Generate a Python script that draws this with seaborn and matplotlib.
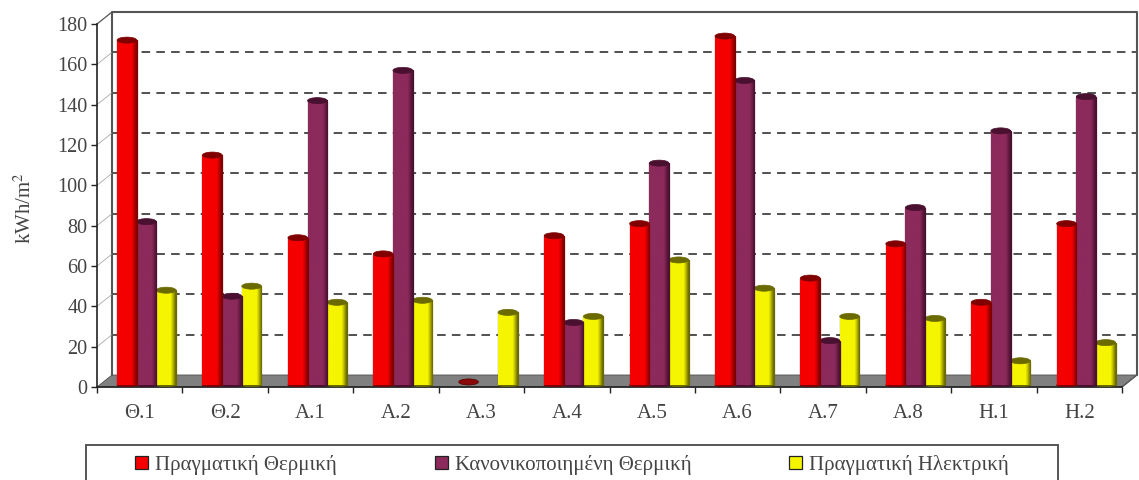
import numpy as np
import pandas as pd
import matplotlib
matplotlib.use("Agg")
import matplotlib.pyplot as plt
from matplotlib.colors import LinearSegmentedColormap
from matplotlib.patches import Ellipse, Polygon, Rectangle
import seaborn as sns

W, H = 1139, 480

sites = ["Θ.1", "Θ.2", "Α.1", "Α.2", "Α.3", "Α.4", "Α.5", "Α.6", "Α.7", "Α.8", "Η.1", "Η.2"]
actual_thermal = [171, 114, 73, 65, 0, 74, 80, 173, 53, 70, 41, 80]
normalised_thermal = [81, 44, 141, 156, 0, 31, 110, 151, 22, 88, 126, 143]
actual_electric = [47, 49, 41, 42, 36, 34, 62, 48, 34, 33, 12, 21]
series_names = ["Πραγματική Θερμική", "Κανονικοποιημένη Θερμική", "Πραγματική Ηλεκτρική"]
series_colors = ["#f50000", "#8c2a5c", "#f5f500"]
shade_colors = ["#800000", "#4a1030", "#6a6a00"]
y_ticks = list(range(0, 181, 20))

sns.set_theme(style="white")
plt.rcParams["font.family"] = ["Liberation Serif", "DejaVu Serif"]
plt.rcParams["mathtext.fontset"] = "stix"

table = pd.DataFrame({
    "site": sites * 3,
    "series": np.repeat(series_names, len(sites)),
    "value": actual_thermal + normalised_thermal + actual_electric,
})

fig = plt.figure(figsize=(W / 100, H / 100), dpi=100)
left, right, bottom, top = 97, 1122, 387, 24
ax = fig.add_axes([left / W, 1 - bottom / H, (right - left) / W, (bottom - top) / H])

sns.barplot(data=table, x="site", y="value", hue="series", hue_order=series_names,
            palette=series_colors, order=sites, width=0.69, saturation=1,
            ax=ax, legend=False, zorder=4)
ax.set_xlim(-0.5, len(sites) - 0.5)
ax.set_ylim(0, 180)

# Depth of the pseudo-3D box, expressed as an offset in axes fractions
dx = 15 / (right - left)
dy = 12 / (bottom - top)
frame = "#555555"
axt = ax.transAxes
ax.add_patch(Polygon([(0, 0), (1, 0), (1 + dx, dy), (dx, dy)], closed=True, transform=axt,
                     facecolor="#808080", edgecolor="#505050", lw=0.6, clip_on=False, zorder=1))
ax.plot([dx, dx, 1 + dx, 1 + dx], [dy, 1 + dy, 1 + dy, dy], transform=axt, color=frame, lw=1.5,
        clip_on=False, zorder=1)
ax.plot([0, dx], [1, 1 + dy], transform=axt, color=frame, lw=0.9, clip_on=False, zorder=1)
ax.plot([1, 1 + dx], [0, dy], transform=axt, color=frame, lw=0.9, clip_on=False, zorder=1)
for v in y_ticks[1:-1]:
    f = v / 180
    ax.plot([dx, 1 + dx], [f + dy, f + dy], transform=axt, color="#505050", lw=1.4,
            ls=(0, (4.4, 3.2)), clip_on=False, zorder=2)
    ax.plot([0, dx], [f, f + dy], transform=axt, color="#999999", lw=0.5, clip_on=False, zorder=2)

# Bars stand slightly behind the front edge of the floor, so they sit to the
# right of the category centre and a little above the axis line.
shift = 0.08
lift = 1.0
cap_h = 3.0
for k, (group, color, shade) in enumerate(zip(ax.containers, series_colors, shade_colors)):
    z = 6 - k
    cmap = LinearSegmentedColormap.from_list("cyl", [color, color, color, color, shade])
    for bar in group:
        w, h = bar.get_width(), bar.get_height()
        x0 = bar.get_x() + shift
        bar.set_x(x0)
        bar.set_y(lift)
        if h <= 0:
            bar.set_visible(False)
            if k == 0:
                ax.add_patch(Ellipse((x0 + w / 2, lift + 1.5), w, 3.0, facecolor="#8a0a0a",
                                     edgecolor="#500000", lw=0.5, zorder=z))
            continue
        bar.set_edgecolor(shade)
        bar.set_linewidth(0.9)
        bar.set_zorder(z)
        ax.imshow(np.linspace(0, 1, 32)[None, :], extent=(x0, x0 + w, lift, lift + h), cmap=cmap,
                  aspect="auto", zorder=z + 0.1)
        ax.add_patch(Ellipse((x0 + w / 2, lift + h), w, cap_h, facecolor=shade, edgecolor=shade,
                             lw=0.5, zorder=z + 0.2, clip_on=False))
        ax.add_patch(Ellipse((x0 + w / 2, lift), w, 1.6, facecolor=shade, edgecolor=shade,
                             lw=0.5, zorder=z - 0.1, clip_on=False))
ax.set_xlim(-0.5, len(sites) - 0.5)
ax.set_ylim(0, 180)

sns.despine(ax=ax, top=True, right=True)
for s in ("left", "bottom"):
    ax.spines[s].set_color("#222222")
    ax.spines[s].set_linewidth(1.2)
ax.set_yticks(y_ticks)
ax.set_xticks(np.arange(len(sites) + 1) - 0.5, minor=True)
ax.set_xticks(np.arange(len(sites)))
ax.set_xticklabels(sites)
ax.tick_params(axis="x", which="minor", bottom=True, length=4, width=1, color="#222222")
ax.tick_params(axis="x", which="major", bottom=False, pad=6, labelsize=15, labelcolor="#444444")
ax.tick_params(axis="y", left=True, length=4, width=1, color="#222222", labelsize=14.5,
               labelcolor="#444444", pad=3)
ax.set_xlabel("")
ax.set_ylabel("kWh/m$^2$", fontsize=15, color="#444444")
ax.yaxis.set_label_coords((36 - left) / (right - left), (bottom - 208) / (bottom - top))

# Legend frame runs past the lower edge of the figure
fig.add_artist(Rectangle((86 / W, -0.05), (1058 - 86) / W, (1 - 445 / H) + 0.05, transform=fig.transFigure,
                         facecolor="white", edgecolor="#555555", lw=1.4))
handles = [Rectangle((0, 0), 1, 1, facecolor=c, edgecolor="#222222", lw=0.9) for c in series_colors]
fig.legend(handles, series_names, loc="center", ncol=3, frameon=False, fontsize=15, labelcolor="#444444",
           bbox_to_anchor=(572 / W, 1 - 465 / H), handlelength=0.62, handleheight=0.62,
           handletextpad=0.33, columnspacing=4.7, borderpad=0, borderaxespad=0)

fig.savefig("out.png", dpi=100, facecolor="white")
